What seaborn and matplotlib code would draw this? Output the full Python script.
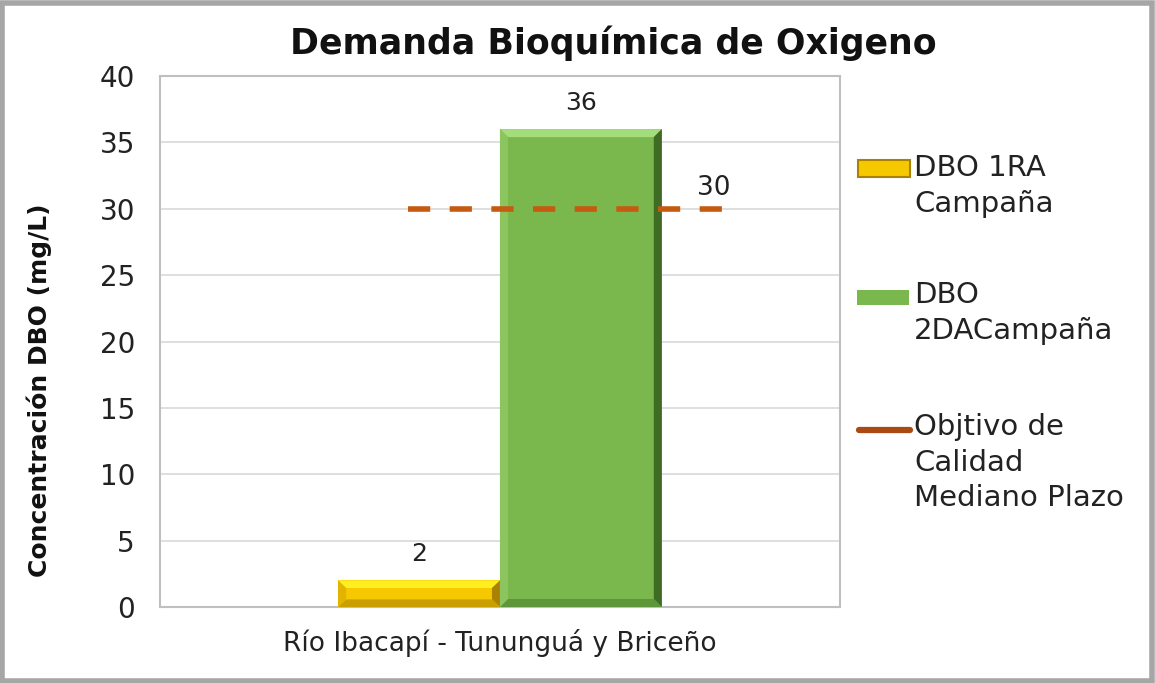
import matplotlib
matplotlib.use("Agg")
import matplotlib.pyplot as plt
import pandas as pd
import seaborn as sns
from matplotlib.lines import Line2D
from matplotlib.patches import Polygon, Rectangle

categories = ["Río Ibacapí - Tununguá y Briceño"]
series_names = ["DBO 1RA\nCampaña", "DBO\n2DACampaña"]
dbo_1ra = [2]
dbo_2da = [36]
objetivo = 30
objetivo_name = "Objtivo de\nCalidad\nMediano Plazo"
y_ticks = [0, 5, 10, 15, 20, 25, 30, 35, 40]

df = pd.DataFrame({
    "sitio": categories * 2,
    "serie": [series_names[0]] * len(dbo_1ra) + [series_names[1]] * len(dbo_2da),
    "valor": dbo_1ra + dbo_2da,
})

sns.set_theme(style="white")
plt.rcParams["font.family"] = ["DejaVu Sans"]

colors = {series_names[0]: "#F5C800", series_names[1]: "#7AB74C"}
# colores del bisel: arriba, derecha, abajo, izquierda
bevel = {
    series_names[0]: ["#FFEE20", "#A88200", "#C9A000", "#E0B400"],
    series_names[1]: ["#A4DD7C", "#3F6B25", "#5E963A", "#8CC55E"],
}

fig = plt.figure(figsize=(11.55, 6.83), dpi=100)
ax = fig.add_axes([0.1385, 0.1113, 0.5887, 0.7774])

sns.barplot(data=df, x="sitio", y="valor", hue="serie", palette=colors,
            saturation=1, width=0.476, dodge=True, legend=False, ax=ax, zorder=3)

ax.set_xlim(-0.5, 0.5)
ax.set_ylim(0, 40)

# grosor del bisel en unidades de datos (~8 px)
bx_t = 8 / 680
by_t = 8 / 531 * 40
for bar, name in list(zip(ax.patches, series_names)):
    bar.set_edgecolor("none")
    x0, w, h = bar.get_x(), bar.get_width(), bar.get_height()
    x1 = x0 + w
    t = min(by_t, h / 3.5)
    c_top, c_right, c_bot, c_left = bevel[name]
    faces = [
        ([(x0, h), (x1, h), (x1 - bx_t, h - t), (x0 + bx_t, h - t)], c_top),
        ([(x1, h), (x1, 0), (x1 - bx_t, t), (x1 - bx_t, h - t)], c_right),
        ([(x0, 0), (x1, 0), (x1 - bx_t, t), (x0 + bx_t, t)], c_bot),
        ([(x0, h), (x0, 0), (x0 + bx_t, t), (x0 + bx_t, h - t)], c_left),
    ]
    for pts, c in faces:
        ax.add_patch(Polygon(pts, closed=True, facecolor=c, edgecolor="none",
                             zorder=3.5))
    ax.text(x0 + w / 2, h + 1.1, f"{h:g}", ha="center", va="bottom",
            fontsize=18, color="#222222")

# linea del objetivo de calidad
lx0 = -0.135
lx1 = 0.335
ax.plot([lx0, lx1], [objetivo, objetivo], color="#C55A11", lw=4,
        dashes=(4, 3.5), zorder=4)
ax.text(lx1 - 0.02, objetivo + 0.6, f"{objetivo}", ha="center", va="bottom",
        fontsize=19, color="#222222")

ax.set_yticks(y_ticks)
ax.yaxis.grid(True, color="#D9D9D9", lw=1.2)
ax.set_axisbelow(True)
for s in ax.spines.values():
    s.set_color("#BFBFBF")
    s.set_linewidth(1.5)
ax.tick_params(axis="y", labelsize=20, colors="#222222", length=0, pad=18)
ax.tick_params(axis="x", labelsize=19, colors="#222222", length=0, pad=16)
ax.set_xlabel("")
ax.set_ylabel("Concentración DBO (mg/L)", fontsize=18, fontweight="bold",
              color="#111111")
ax.yaxis.set_label_coords(-0.159, 0.409)

fig.text(0.531, 0.937, "Demanda Bioquímica de Oxigeno", ha="center", va="center",
         fontsize=25, fontweight="bold", color="#111111")

# leyenda al estilo de Excel: simbolo alineado con la primera linea del texto
W, H = 1155, 683


def fx(px):
    return px / W


def fy(py):
    return 1 - py / H


leg_y = [171, 298, 430]
fig.add_artist(Rectangle((fx(858), fy(177)), fx(52), 17 / H, transform=fig.transFigure,
                         facecolor=colors[series_names[0]], edgecolor="#A88200", lw=1.5))
fig.add_artist(Rectangle((fx(857), fy(305)), fx(52), 15 / H, transform=fig.transFigure,
                         facecolor=colors[series_names[1]], edgecolor="none"))
fig.add_artist(Line2D([fx(859), fx(910)], [fy(430), fy(430)], transform=fig.transFigure,
                      color="#A94A12", lw=4.5, solid_capstyle="round"))
for y, label in zip(leg_y, series_names + [objetivo_name]):
    fig.text(fx(914), fy(y - 17), label, ha="left", va="top", fontsize=21,
             color="#222222", linespacing=1.35)

fig.add_artist(Rectangle((0.002, 0.003), 0.995, 0.993, transform=fig.transFigure,
                         fill=False, edgecolor="#A6A6A6", lw=4))

fig.savefig("out.png", dpi=100)
